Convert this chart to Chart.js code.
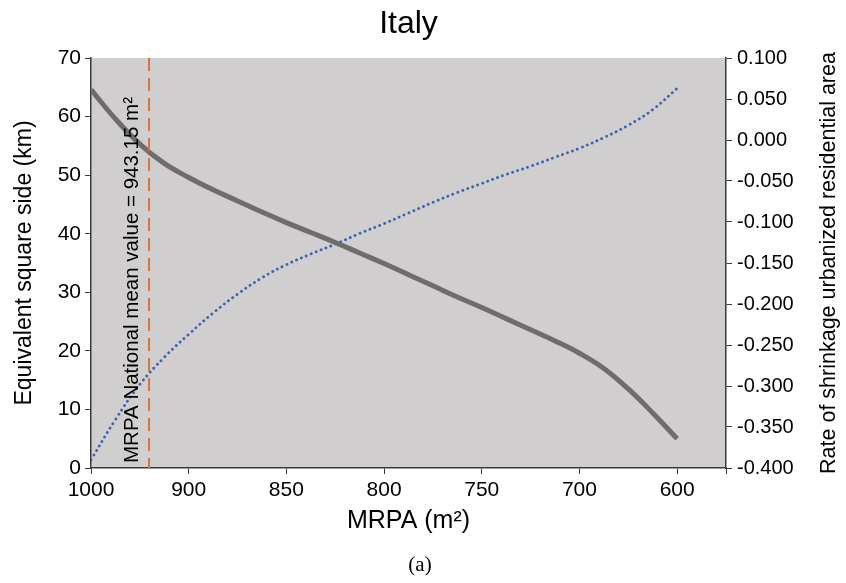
<!DOCTYPE html>
<html>
<head>
<meta charset="utf-8">
<script src="https://cdn.jsdelivr.net/npm/chart.js@4.4.0/dist/chart.umd.min.js"></script>
<style>
  html, body { margin: 0; padding: 0; background: #fff; }
  #wrap { width: 846px; height: 583px; }
</style>
</head>
<body>
<div id="wrap"><canvas id="italyChart" width="846" height="583"></canvas></div>
<script>
// x axis is an evenly spaced category axis, labels only at some ticks
const xTickLabels = ['1000', '900', '850', '800', '750', '700', '600'];
const positions = [0, 0.25, 0.5, 0.75, 1, 1.25, 1.5, 1.75, 2, 2.25, 2.5, 2.75, 3,
    3.25, 3.5, 3.75, 4, 4.25, 4.5, 4.75, 5, 5.25, 5.5, 5.75, 6];
// Equivalent square side (km) - left axis
const squareSide = [64.6, 59.6, 55.3, 52.0, 49.6, 47.5, 45.6, 43.7, 41.9, 40.2, 38.5, 36.7, 34.9,
    33.0, 31.1, 29.2, 27.4, 25.5, 23.6, 21.7, 19.6, 17.0, 13.5, 9.4, 5.0];
// Rate of shrinkage urbanized residential area - right axis
const shrinkRate = [-0.390, -0.341, -0.298, -0.265, -0.237, -0.211, -0.188, -0.168, -0.152, -0.139,
    -0.127, -0.114, -0.102, -0.089, -0.076, -0.064, -0.053, -0.042, -0.032, -0.021,
    -0.010, 0.003, 0.018, 0.037, 0.063];
// national mean (943.15 m2) sits between the 1000 and 900 ticks
const meanPos = 0.594;
const meanLabel = 'MRPA National mean value = 943.15 m²';

const FONT = "'Liberation Sans', Arial, sans-serif";
const AXIS_COLOR = '#3a3a3a';

const extras = {
    id: 'extras',
    beforeDraw(chart) {
        const {ctx, chartArea: a} = chart;
        ctx.save();
        ctx.fillStyle = '#d0cece';
        ctx.fillRect(a.left, a.top, a.right - a.left, a.bottom - a.top);
        ctx.restore();
    },
    afterDraw(chart) {
        const {ctx, chartArea: a} = chart;
        const xs = chart.scales.x;
        ctx.save();
        ctx.fillStyle = '#000';
        // label along the mean line
        ctx.save();
        ctx.translate(xs.getPixelForValue(meanPos) - 17, a.bottom - 5);
        ctx.rotate(-Math.PI / 2);
        ctx.font = '20.5px ' + FONT;
        ctx.textAlign = 'left';
        ctx.textBaseline = 'middle';
        ctx.fillText(meanLabel, 0, 0);
        ctx.restore();
        // right axis title (reads bottom to top)
        ctx.save();
        ctx.translate(829, (a.top + a.bottom) / 2);
        ctx.rotate(-Math.PI / 2);
        ctx.font = '21.5px ' + FONT;
        ctx.textAlign = 'center';
        ctx.textBaseline = 'middle';
        ctx.fillText('Rate of shrinkage urbanized residential area', 0, 0);
        ctx.restore();
        // figure tag
        ctx.font = "21px 'Liberation Serif', serif";
        ctx.textAlign = 'center';
        ctx.textBaseline = 'middle';
        ctx.fillText('(a)', 420, 565);
        ctx.restore();
    }
};

new Chart(document.getElementById('italyChart'), {
    type: 'line',
    data: {
        datasets: [{
            label: 'Mean',
            data: [{x: meanPos, y: 70}, {x: meanPos, y: 0}],
            yAxisID: 'y',
            borderColor: '#d4773a',
            borderWidth: 2,
            borderDash: [13, 7],
            pointRadius: 0
        }, {
            label: 'Equivalent square side',
            data: positions.map((p, i) => ({x: p, y: squareSide[i]})),
            yAxisID: 'y',
            borderColor: '#6f6c6c',
            borderWidth: 5,
            tension: 0.4,
            pointRadius: 0
        }, {
            label: 'Rate of shrinkage',
            data: positions.map((p, i) => ({x: p, y: shrinkRate[i]})),
            yAxisID: 'y1',
            borderColor: '#3a63b4',
            borderWidth: 2.8,
            borderDash: [0.1, 5.2],
            borderCapStyle: 'round',
            tension: 0.4,
            pointRadius: 0
        }]
    },
    options: {
        responsive: false,
        animation: false,
        layout: { padding: 0 },
        plugins: {
            legend: { display: false },
            tooltip: { enabled: false },
            title: {
                display: true,
                text: 'Italy',
                fullSize: false,
                color: '#000',
                font: { family: FONT, size: 32, weight: 'normal' },
                padding: { top: 5, bottom: 14.6 }
            }
        },
        scales: {
            x: {
                type: 'linear',
                min: 0,
                max: 6.5,
                afterBuildTicks: (s) => {
                    s.ticks = [0, 1, 2, 3, 4, 5, 6, 6.5].map(v => ({value: v}));
                },
                ticks: {
                    color: '#000',
                    padding: 4,
                    maxRotation: 0,
                    autoSkip: false,
                    font: { family: FONT, size: 21 },
                    callback: (v) => Number.isInteger(v) ? xTickLabels[v] : ''
                },
                grid: { drawOnChartArea: false, drawTicks: true, tickLength: 6, color: AXIS_COLOR },
                border: { display: true, color: AXIS_COLOR, width: 1.5 },
                title: {
                    display: true,
                    text: 'MRPA (m²)',
                    color: '#000',
                    font: { family: FONT, size: 25 },
                    padding: { top: 0, bottom: 47 }
                },
                afterFit: (s) => { s.height = 115; }
            },
            y: {
                position: 'left',
                min: 0,
                max: 70,
                ticks: {
                    stepSize: 10,
                    color: '#000',
                    padding: 4,
                    font: { family: FONT, size: 21 }
                },
                grid: { drawOnChartArea: false, drawTicks: true, tickLength: 6, color: AXIS_COLOR },
                border: { display: true, color: AXIS_COLOR, width: 1.5 },
                title: {
                    display: true,
                    text: 'Equivalent square side (km)',
                    color: '#000',
                    font: { family: FONT, size: 23 },
                    padding: { top: 11, bottom: 0 }
                },
                afterFit: (s) => { s.width = 91; }
            },
            y1: {
                position: 'right',
                min: -0.4,
                max: 0.1,
                ticks: {
                    stepSize: 0.05,
                    color: '#000',
                    padding: 5,
                    font: { family: FONT, size: 20 },
                    callback: (v) => v.toFixed(3)
                },
                grid: { drawOnChartArea: false, drawTicks: true, tickLength: 6, color: AXIS_COLOR },
                border: { display: true, color: AXIS_COLOR, width: 1.5 },
                afterFit: (s) => { s.width = 120; }
            }
        }
    },
    plugins: [extras]
});
</script>
</body>
</html>
